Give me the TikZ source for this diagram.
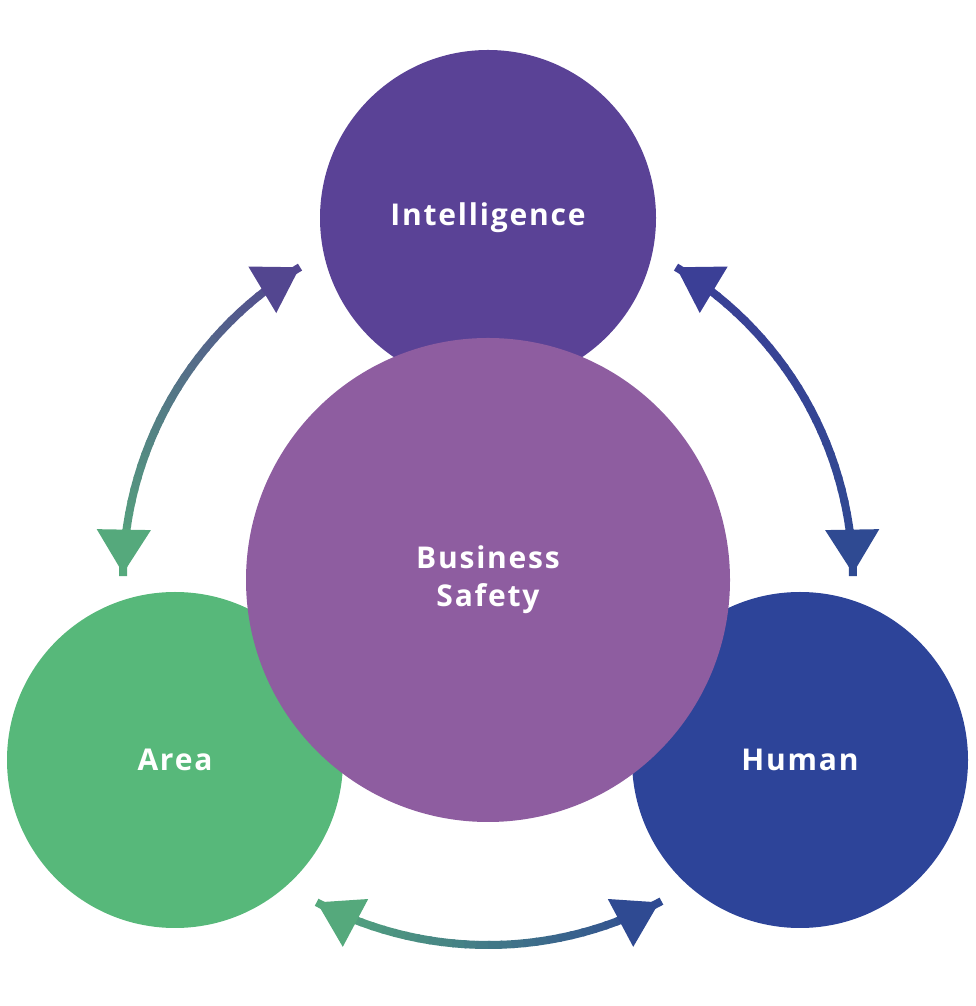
\documentclass[tikz,border=0pt]{standalone}
\usepackage{fontspec}
\setmainfont{Open Sans}[LetterSpace=6]
\usetikzlibrary{arrows.meta}
\definecolor{intel}{HTML}{5A4296}
\definecolor{safety}{HTML}{8E5DA0}
\definecolor{area}{HTML}{57B87A}
\definecolor{human}{HTML}{2D4499}
\definecolor{arcpurple}{HTML}{534690}
\definecolor{arcgreen}{HTML}{55A97C}
\definecolor{arcblue}{HTML}{3B3F96}
\definecolor{arcnavy}{HTML}{2F4A92}
% gradient arc: start angle, end angle, start colour, end colour
\newcommand\gradarc[4]{%
  \foreach \k in {0,...,29}{%
    \pgfmathsetmacro\pct{100-100*\k/29}
    \draw[link, color={#3!\pct!#4}] (safe.center) ++({#1+(#2-#1)*\k/30}:365) arc[start angle={#1+(#2-#1)*\k/30}, end angle={#1+(#2-#1)*(\k+1.2)/30}, radius=365];
  }
  \draw[link, color=#3, -{Triangle[length=44pt,width=52pt]}] (safe.center) ++({#1+(#2-#1)*0.12}:365) arc[start angle={#1+(#2-#1)*0.12}, end angle=#1, radius=365];
  \draw[link, color=#4, -{Triangle[length=44pt,width=52pt]}] (safe.center) ++({#2-(#2-#1)*0.12}:365) arc[start angle={#2-(#2-#1)*0.12}, end angle=#2, radius=365];
}
\begin{document}
\begin{tikzpicture}[x=1pt, y=1pt,
    bubble/.style={circle, inner sep=0pt, text=white, font=\fontsize{30}{40}\selectfont\bfseries, align=center},
    link/.style={line width=8pt}
]
\useasboundingbox (0,0) rectangle (976,1006);

% Arcs
\coordinate (safe) at (488,426);
\node[inner sep=0pt] (safe) at (488,426) {};
\gradarc{121}{179}{arcpurple}{arcgreen}
\gradarc{59}{1}{arcblue}{arcnavy}
\gradarc{242}{298}{arcgreen}{arcnavy}

% Circles
\node[bubble, fill=intel, minimum size=336pt] (intel) at (488,788) {Intelligence};
\node[bubble, fill=area, minimum size=336pt] (area) at (175,246) {Area};
\node[bubble, fill=human, minimum size=336pt] (human) at (800,246) {Human};
\node[bubble, fill=safety, minimum size=484pt] (business) at (488,426) {Business\\[-2pt]Safety};
\end{tikzpicture}
\end{document}
